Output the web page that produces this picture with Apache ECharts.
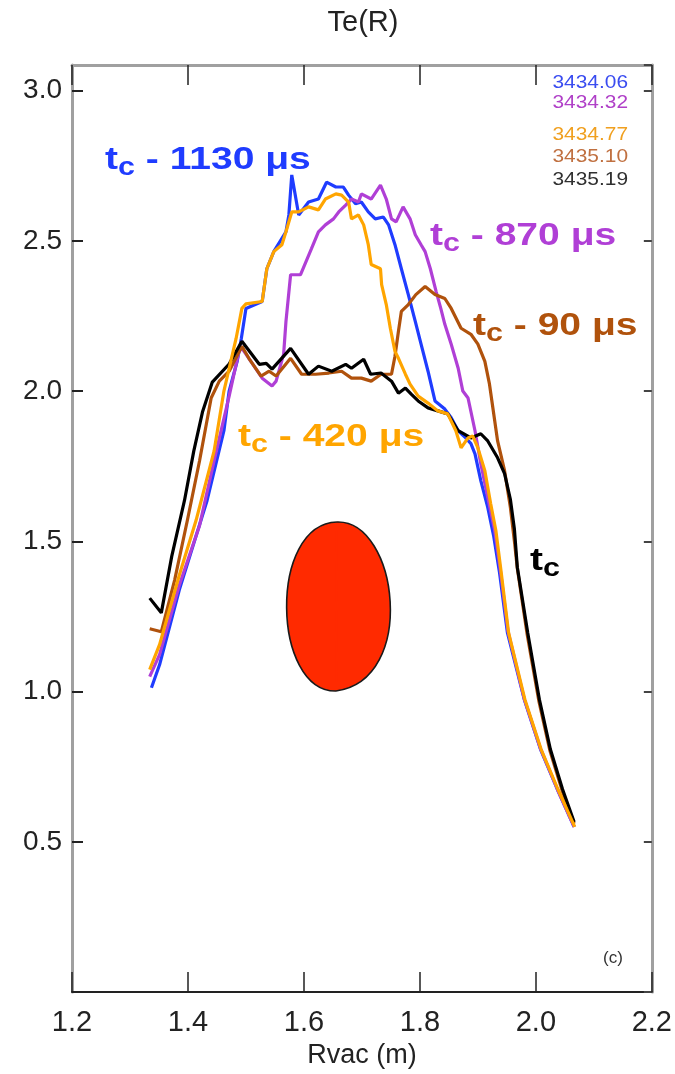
<!DOCTYPE html>
<html>
<head>
<meta charset="utf-8">
<script src="https://cdn.jsdelivr.net/npm/echarts@6/dist/echarts.min.js"></script>
<style>
html,body{margin:0;padding:0;background:#fff;}
#chart{width:675px;height:1074px;}
</style>
</head>
<body>
<div id="chart"></div>
<script>
// ---- Data (R in m, Te in keV) ----
const xTicks = [1.2, 1.4, 1.6, 1.8, 2.0, 2.2];
const yTicks = [0.5, 1.0, 1.5, 2.0, 2.5, 3.0];

const shotNames = ['3434.06', '3434.32', '3434.77', '3435.10', '3435.19'];

const te343406 = [[1.337,1.013],[1.351,1.089],[1.385,1.338],[1.433,1.636],[1.462,1.868],[1.471,2.0],[1.485,2.10],[1.492,2.175],[1.500,2.275],[1.528,2.298],[1.536,2.407],[1.548,2.464],[1.569,2.530],[1.574,2.586],[1.579,2.719],[1.591,2.586],[1.608,2.629],[1.625,2.639],[1.639,2.695],[1.655,2.679],[1.668,2.679],[1.677,2.652],[1.689,2.623],[1.699,2.629],[1.711,2.596],[1.723,2.573],[1.737,2.579],[1.746,2.553],[1.757,2.487],[1.768,2.407],[1.780,2.321],[1.792,2.232],[1.802,2.156],[1.814,2.066],[1.826,1.967],[1.843,1.940],[1.854,1.911],[1.866,1.868],[1.879,1.844],[1.888,1.825],[1.895,1.791],[1.905,1.702],[1.917,1.613],[1.927,1.52],[1.937,1.40],[1.951,1.195],[1.980,0.974],[2.008,0.808],[2.037,0.675],[2.066,0.55]];

const te343432 = [[1.334,1.050],[1.351,1.123],[1.385,1.354],[1.420,1.553],[1.445,1.768],[1.471,1.983],[1.488,2.132],[1.493,2.142],[1.500,2.123],[1.528,2.043],[1.545,2.017],[1.552,2.033],[1.565,2.123],[1.569,2.232],[1.577,2.387],[1.594,2.387],[1.613,2.474],[1.625,2.530],[1.637,2.553],[1.651,2.573],[1.660,2.596],[1.672,2.619],[1.682,2.639],[1.694,2.629],[1.699,2.656],[1.716,2.639],[1.732,2.685],[1.742,2.639],[1.751,2.573],[1.759,2.563],[1.771,2.613],[1.783,2.573],[1.792,2.520],[1.802,2.487],[1.809,2.464],[1.818,2.407],[1.828,2.331],[1.836,2.275],[1.843,2.222],[1.854,2.156],[1.866,2.076],[1.874,2.000],[1.883,1.977],[1.895,1.868],[1.905,1.758],[1.917,1.646],[1.929,1.536],[1.939,1.40],[1.952,1.20],[1.980,0.975],[2.008,0.81],[2.037,0.675],[2.066,0.55]];

const te343477 = [[1.334,1.073],[1.351,1.156],[1.385,1.387],[1.414,1.570],[1.445,1.80],[1.462,2.0],[1.483,2.175],[1.493,2.275],[1.500,2.29],[1.528,2.298],[1.536,2.407],[1.548,2.464],[1.562,2.487],[1.569,2.530],[1.579,2.596],[1.591,2.596],[1.608,2.613],[1.625,2.603],[1.637,2.639],[1.655,2.656],[1.665,2.652],[1.677,2.629],[1.682,2.573],[1.694,2.586],[1.703,2.553],[1.711,2.487],[1.716,2.421],[1.732,2.407],[1.734,2.354],[1.742,2.288],[1.749,2.209],[1.757,2.132],[1.763,2.109],[1.775,2.056],[1.783,2.023],[1.797,1.983],[1.814,1.960],[1.831,1.934],[1.848,1.924],[1.862,1.868],[1.871,1.811],[1.883,1.844],[1.891,1.851],[1.900,1.811],[1.912,1.735],[1.922,1.626],[1.931,1.536],[1.940,1.40],[1.953,1.195],[1.981,0.974],[2.009,0.808],[2.038,0.675],[2.067,0.55]];

const te343510 = [[1.334,1.209],[1.354,1.199],[1.377,1.371],[1.399,1.570],[1.420,1.768],[1.440,1.977],[1.454,2.033],[1.471,2.066],[1.493,2.149],[1.505,2.109],[1.526,2.050],[1.540,2.066],[1.552,2.050],[1.577,2.109],[1.596,2.056],[1.620,2.056],[1.643,2.060],[1.665,2.066],[1.682,2.043],[1.699,2.043],[1.716,2.033],[1.733,2.056],[1.751,2.056],[1.757,2.116],[1.763,2.199],[1.768,2.265],[1.780,2.288],[1.793,2.321],[1.809,2.348],[1.826,2.321],[1.843,2.308],[1.854,2.275],[1.871,2.209],[1.888,2.189],[1.900,2.156],[1.912,2.099],[1.920,2.023],[1.934,1.834],[1.946,1.735],[1.956,1.613],[1.963,1.50],[1.968,1.41],[1.985,1.19],[2.005,0.97],[2.024,0.805],[2.045,0.672],[2.066,0.56]];

const te343519 = [[1.334,1.311],[1.354,1.262],[1.372,1.45],[1.394,1.636],[1.410,1.80],[1.425,1.93],[1.442,2.03],[1.471,2.09],[1.493,2.166],[1.523,2.089],[1.535,2.092],[1.545,2.073],[1.577,2.142],[1.608,2.056],[1.625,2.083],[1.648,2.066],[1.672,2.089],[1.682,2.076],[1.703,2.106],[1.715,2.056],[1.733,2.060],[1.751,2.033],[1.763,1.993],[1.775,2.010],[1.785,1.990],[1.797,1.967],[1.814,1.944],[1.831,1.934],[1.848,1.924],[1.866,1.868],[1.888,1.844],[1.905,1.858],[1.917,1.834],[1.934,1.778],[1.946,1.725],[1.956,1.64],[1.963,1.54],[1.968,1.414],[1.986,1.195],[2.006,0.974],[2.025,0.808],[2.046,0.675],[2.066,0.566]];

// series in drawing order: name, data, colour
const seriesList = [
  {name: '3434.06', data: te343406, color: '#1f3cff'},
  {name: '3434.32', data: te343432, color: '#b03fd6'},
  {name: '3435.10', data: te343510, color: '#b0520c'},
  {name: '3435.19', data: te343519, color: '#000000'},
  {name: '3434.77', data: te343477, color: '#ffa500'}
];
const legendColors = ['#3a4cf0', '#b040c8', '#f0a020', '#c07040', '#303030'];
const annotations = [
  {text: ' - 1130 μs', color: '#1f3cff', x: 105, y: 160},
  {text: ' - 870 μs', color: '#b03fd6', x: 430, y: 236},
  {text: ' - 90 μs', color: '#b0520c', x: 473, y: 326},
  {text: ' - 420 μs', color: '#ffa500', x: 238, y: 437},
  {text: '', color: '#000000', x: 530, y: 561}
];

// ---- Chart ----
const FONT = "'Liberation Sans', Arial, Helvetica, sans-serif";
const chart = echarts.init(document.getElementById('chart'), null, {renderer: 'canvas'});

const grid = {left: 72, right: 20, top: 65, bottom: 74};

function tcText(a) {
  return {
    type: 'text', x: a.x, y: a.y, z: 100, scaleX: 1.22,
    style: {
      text: '{t|t}{c|c}{r|' + a.text + '}',
      textVerticalAlign: 'middle',
      rich: {
        t: {fontSize: 32, fontWeight: 'bold', fontFamily: FONT, fill: a.color, lineHeight: 42, verticalAlign: 'middle'},
        c: {fontSize: 25, fontWeight: 'bold', fontFamily: FONT, fill: a.color, lineHeight: 42, verticalAlign: 'bottom'},
        r: {fontSize: 32, fontWeight: 'bold', fontFamily: FONT, fill: a.color, lineHeight: 42, verticalAlign: 'middle'}
      }
    }
  };
}

const legendYs = [83, 103, 135, 157, 180];
const graphics = [];
graphics.push({type: 'text', x: 363, y: 23, style: {text: 'Te(R)', fontSize: 29, fontFamily: FONT, fill: '#222', textAlign: 'center', textVerticalAlign: 'middle'}});
shotNames.forEach((n, i) => {
  graphics.push({type: 'text', x: 628, y: legendYs[i], z: 100, scaleX: 1.1, style: {text: n, fontSize: 19, fontFamily: FONT, fill: legendColors[i], textAlign: 'right', textVerticalAlign: 'middle'}});
});
annotations.forEach(a => graphics.push(tcText(a)));
graphics.push({type: 'text', x: 613, y: 958, style: {text: '(c)', fontSize: 17, fontFamily: FONT, fill: '#333', textAlign: 'center', textVerticalAlign: 'middle'}});
// plasma cross-section sketch (two halves of an egg outline)
const eggFill = '#ff2a00', eggStroke = '#1a1a1a';
graphics.push({type: 'bezierCurve', z: 50, shape: {x1: 337, y1: 522, cpx1: 268, cpy1: 524, cpx2: 272, cpy2: 692, x2: 336, y2: 691}, style: {fill: eggFill, stroke: eggStroke, lineWidth: 1.6}});
graphics.push({type: 'bezierCurve', z: 50, shape: {x1: 337, y1: 522, cpx1: 398, cpy1: 520, cpx2: 418, cpy2: 680, x2: 336, y2: 691}, style: {fill: eggFill, stroke: eggStroke, lineWidth: 1.6}});
graphics.push({type: 'line', z: 51, shape: {x1: 337, y1: 526, x2: 336, y2: 687}, style: {stroke: eggFill, lineWidth: 2}});

const option = {
  animation: false,
  backgroundColor: '#fff',
  grid: grid,
  xAxis: [{
    type: 'value', min: 1.2, max: 2.2, interval: 0.2, position: 'bottom',
    name: 'Rvac (m)', nameLocation: 'middle', nameGap: 46,
    nameTextStyle: {fontSize: 27, fontFamily: FONT, color: '#222'},
    axisLine: {show: true, onZero: false, lineStyle: {color: '#222', width: 2}},
    axisTick: {show: true, inside: true, length: 20, lineStyle: {color: '#222', width: 1.5}},
    axisLabel: {fontSize: 29, fontFamily: FONT, color: '#222', margin: 16, formatter: v => v.toFixed(1)},
    splitLine: {show: false}
  }, {
    type: 'value', min: 1.2, max: 2.2, interval: 0.2, position: 'top',
    axisLine: {show: true, onZero: false, lineStyle: {color: '#a0a0a0', width: 3}},
    axisTick: {show: true, inside: true, length: 20, lineStyle: {color: '#222', width: 1.5}},
    axisLabel: {show: false}, splitLine: {show: false}
  }],
  yAxis: [{
    type: 'value', min: 0, max: 3.085, interval: 0.5, position: 'left',
    axisLine: {show: true, onZero: false, lineStyle: {color: '#a0a0a0', width: 3}},
    axisTick: {show: true, inside: true, length: 11, lineStyle: {color: '#222', width: 2}},
    axisLabel: {fontSize: 28, fontFamily: FONT, color: '#222', margin: 10, showMinLabel: false, showMaxLabel: false,
      formatter: v => (yTicks.some(t => Math.abs(t - v) < 1e-6)) ? v.toFixed(1) : ''},
    splitLine: {show: false}
  }, {
    type: 'value', min: 0, max: 3.085, interval: 0.5, position: 'right',
    axisLine: {show: true, onZero: false, lineStyle: {color: '#a0a0a0', width: 3}},
    axisTick: {show: true, inside: true, length: 8, lineStyle: {color: '#444', width: 2}},
    axisLabel: {show: false}, splitLine: {show: false}
  }],
  graphic: graphics,
  series: seriesList.map((s, j) => ({
    type: 'line', name: s.name, data: s.data, xAxisIndex: 0, yAxisIndex: 0,
    showSymbol: false, symbol: 'none', smooth: false,
    lineStyle: {color: s.color, width: 3.2},
    z: 10 + j
  }))
};
chart.setOption(option);
</script>
</body>
</html>
